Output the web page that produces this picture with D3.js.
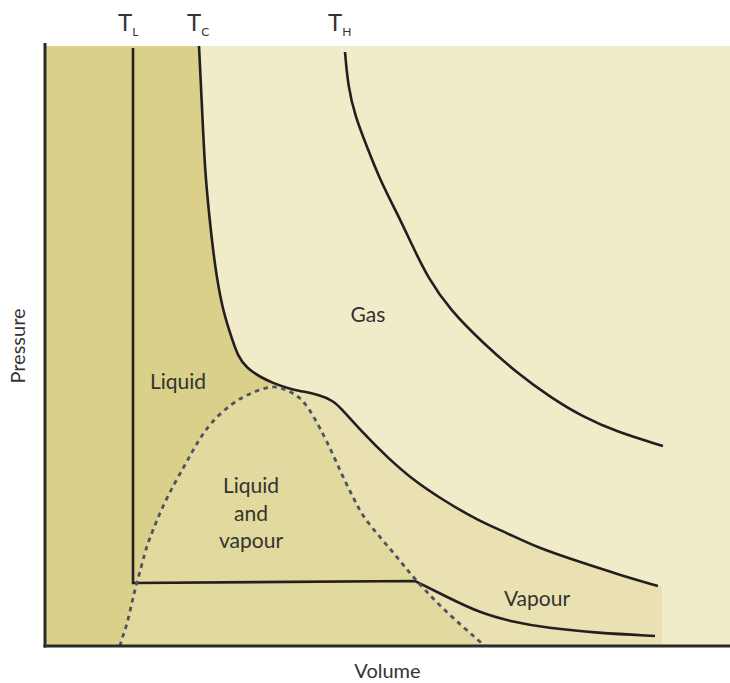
<!DOCTYPE html>
<html><head><meta charset="utf-8">
<script src="https://cdn.jsdelivr.net/npm/d3@7"></script>
<style>
html,body{margin:0;padding:0;background:#fff;}
svg text{font-family:Lato,"Open Sans",sans-serif;fill:#333;}
</style></head>
<body>
<svg id="chart" width="730" height="683"></svg>
<script>
// Data: [volume, pressure] in arbitrary units
const isoTC = [[15.4,60.0],[15.7,53.9],[16.0,47.3],[16.5,42.3],[17.0,37.9],[17.7,33.9],[18.5,31.3],[19.3,28.9],[20.2,27.8],[21.5,26.9],[22.8,26.3],[24.2,25.8],[25.5,25.5],[27.5,25.1],[28.8,24.5],[29.5,23.9],[31.8,21.3],[34.2,18.9],[36.8,16.6],[39.8,14.6],[43.2,12.6],[46.2,11.3],[49.3,9.8],[53.5,8.4],[57.5,7.1],[61.3,6.0]];
const criticalIndex = 10;
const isoTH = [[30.0,59.4],[30.3,56.0],[31.0,53.0],[32.2,49.9],[33.5,46.6],[35.2,43.3],[36.8,39.9],[38.3,36.8],[40.5,33.6],[43.8,30.3],[47.2,27.3],[50.5,24.9],[53.8,22.9],[57.2,21.4],[61.8,20.0]];
const isoTLStraight = [[8.8,59.8],[8.8,6.3],[37.0,6.5]];
const isoTLCurve = [[37.0,6.5],[40.2,4.9],[43.5,3.3],[46.8,2.4],[50.2,1.8],[55.2,1.3],[61.0,1.0]];
const domeLeft = [[7.5,0],[7.7,0.8],[8.2,2.1],[8.7,4.4],[9.0,5.6],[9.4,7.1],[10.0,9.3],[10.3,10.4],[12.0,14.6],[14.0,18.1],[15.2,20.3],[16.5,22.3],[18.8,24.4],[20.8,25.4],[22.8,26.1]];
const domeRight = [[22.8,26.1],[24.2,25.6],[25.5,24.9],[26.5,23.6],[27.5,21.8],[28.7,19.4],[29.7,17.1],[30.8,14.9],[31.8,12.9],[33.5,10.9],[35.2,8.9],[36.8,6.9],[39.2,4.3],[41.8,1.9],[44.0,0]];
const vapourEdge = 61.7;
const isothermLabels = [["T","L"],["T","C"],["T","H"]];
const regionLabels = [["Gas"],["Liquid"],["Liquid","and","vapour"],["Vapour"]];
const axisLabels = ["Volume","Pressure"];

const svg = d3.select("#chart");
const x = d3.scaleLinear().domain([0,68.5]).range([45,730]);
const y = d3.scaleLinear().domain([0,60]).range([646,46]);

const lin = d3.line().x(d=>x(d[0])).y(d=>y(d[1]));
const cr = d3.line().x(d=>x(d[0])).y(d=>y(d[1])).curve(d3.curveBasis);
const cont = s => s.replace(/^M/,"L");

const C = {gas:"#f0ebc8", liquid:"#dad08a", dome:"#e1d99d", vapour:"#e9e1b2", ink:"#231f20", dash:"#4f5361"};

// background (gas)
svg.append("rect").attr("x",x(0)).attr("y",y(60)).attr("width",x(68.5)-x(0)).attr("height",y(0)-y(60)).attr("fill",C.gas);

// vapour region
const tcLower = isoTC.slice(criticalIndex);
svg.append("path").attr("fill",C.vapour)
  .attr("d", cr(tcLower) + cont(lin([[vapourEdge,tcLower[tcLower.length-1][1]],[vapourEdge,0],[tcLower[0][0],0]])) + "Z");

// liquid region
const tcUpper = isoTC.slice(0,criticalIndex+1);
svg.append("path").attr("fill",C.liquid)
  .attr("d", lin([[0,60],tcUpper[0]]) + cont(cr(tcUpper)) + cont(cr(domeLeft.slice().reverse())) + cont(lin([[0,0]])) + "Z");

// dome region
const dome = domeLeft.concat(domeRight.slice(1));
svg.append("path").attr("fill",C.dome).attr("d", cr(dome) + "Z");

// isotherms
const ink = sel => sel.attr("fill","none").attr("stroke",C.ink).attr("stroke-width",2.6).attr("stroke-linejoin","miter");
ink(svg.append("path").attr("d", cr(isoTH)));
ink(svg.append("path").attr("d", cr(isoTC)));
ink(svg.append("path").attr("d", lin(isoTLStraight) + cont(cr(isoTLCurve))));

// dashed saturation dome
svg.append("path").attr("d", cr(dome)).attr("fill","none").attr("stroke",C.dash)
  .attr("stroke-width",2.8).attr("stroke-dasharray","4.5,4.5");

// axes
svg.append("line").attr("x1",x(0)).attr("x2",x(0)).attr("y1",y(60.3)).attr("y2",y(0)+1.5)
  .attr("stroke","#2a2a2a").attr("stroke-width",3);
svg.append("line").attr("x1",x(0)-1.5).attr("x2",x(68.5)).attr("y1",y(0)).attr("y2",y(0))
  .attr("stroke","#2a2a2a").attr("stroke-width",3);

// isotherm labels
const tops = [isoTLStraight[0][0], isoTC[0][0], isoTH[0][0]];
const tOffsets = [-15, -12, -17];
isothermLabels.forEach((lab,i)=>{
  const t = svg.append("text").attr("x", x(tops[i]) + tOffsets[i]).attr("y",31).attr("font-size",24);
  t.append("tspan").text(lab[0]);
  t.append("tspan").attr("font-size",12).attr("dy",5).attr("dx",0).text(lab[1]);
});

// region labels
const regionPos = [[368,322],[178,389],[251,493],[537,606]];
regionLabels.forEach((lines,i)=>{
  lines.forEach((s,j)=>{
    svg.append("text").attr("x",regionPos[i][0]).attr("y",regionPos[i][1]+j*27.5)
      .attr("text-anchor","middle").attr("font-size",21).text(s);
  });
});

// axis titles
svg.append("text").attr("x",(x(0)+x(68.5))/2).attr("y",678).attr("text-anchor","middle").attr("font-size",20).text(axisLabels[0]);
svg.append("text").attr("transform","translate(25,346) rotate(-90)").attr("text-anchor","middle").attr("font-size",20).text(axisLabels[1]);
</script>
</body></html>
